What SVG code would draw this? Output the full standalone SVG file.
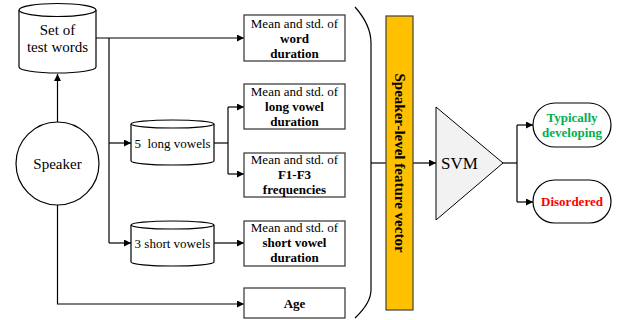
<svg xmlns="http://www.w3.org/2000/svg" width="619" height="320" viewBox="0 0 619 320" font-family="'Liberation Serif', 'DejaVu Serif', serif">
<style>
text{font-family:'Liberation Serif','DejaVu Serif',serif;fill:#000}
.t13{font-size:13px}
.b{font-weight:bold}
.box{fill:#fff;stroke:#404040;stroke-width:1.3}
.shape{fill:#fff;stroke:#000;stroke-width:1.2}
.ln{fill:none;stroke:#000;stroke-width:1.2}
</style>
<defs>
<marker id="ah" viewBox="0 0 10 10" refX="10" refY="5" markerWidth="7" markerHeight="7" markerUnits="userSpaceOnUse" orient="auto">
<path d="M0,0 L10,5 L0,10 z" fill="#000"/>
</marker>
</defs>
<rect width="619" height="320" fill="#fff"/>
<g id="connectors">
<path class="ln" d="M57.5,122 V74" marker-end="url(#ah)"/>
<path class="ln" d="M96,38 H244" marker-end="url(#ah)"/>
<path class="ln" d="M109,38 V243" />
<path class="ln" d="M109,143 H131" marker-end="url(#ah)"/>
<path class="ln" d="M109,243 H131" marker-end="url(#ah)"/>
<path class="ln" d="M214,143 H228" />
<path class="ln" d="M228,107 V174" />
<path class="ln" d="M228,107 H244" marker-end="url(#ah)"/>
<path class="ln" d="M228,174 H244" marker-end="url(#ah)"/>
<path class="ln" d="M214,243 H244" marker-end="url(#ah)"/>
<path class="ln" d="M57.5,205 V304 H244" marker-end="url(#ah)"/>
<path class="ln" d="M371,163 H386" />
<path class="ln" d="M413,163 H436" marker-end="url(#ah)"/>
<path class="ln" d="M503,163 H517" />
<path class="ln" d="M517,125 V202" />
<path class="ln" d="M517,125 H533" marker-end="url(#ah)"/>
<path class="ln" d="M517,202 H533" marker-end="url(#ah)"/>
</g>
<g id="brace">
<path class="ln" d="M355,7 Q371,25 371,43 V290 Q371,303 355,318"/>
</g>
<g id="test-words">
<path class="shape" d="M19,10 V67 A38.5,6 0 0 0 96,67 V10"/>
<ellipse class="shape" cx="57.5" cy="10" rx="38.5" ry="6.5"/>
<text x="57.5" y="35" text-anchor="middle" font-size="15">Set of</text>
<text x="57.5" y="52" text-anchor="middle" font-size="15">test words</text>
</g>
<g id="speaker">
<circle class="shape" cx="57.5" cy="163.5" r="41.5"/>
<text x="57.5" y="168.5" text-anchor="middle" font-size="15">Speaker</text>
</g>
<g id="long-vowels">
<path class="shape" d="M131,124 V161 A41.5,4 0 0 0 214,161 V124"/>
<ellipse class="shape" cx="172.5" cy="124" rx="41.5" ry="4"/>
<text x="172.5" y="147.5" text-anchor="middle" class="t13" xml:space="preserve">5  long vowels</text>
</g>
<g id="short-vowels">
<path class="shape" d="M131,225 V262 A41.5,4 0 0 0 214,262 V225"/>
<ellipse class="shape" cx="172.5" cy="225" rx="41.5" ry="4"/>
<text x="172.5" y="247.5" text-anchor="middle" class="t13">3 short vowels</text>
</g>
<g id="word-duration">
<rect class="box" x="244" y="15" width="101" height="46"/>
<text x="294.5" y="27.5" text-anchor="middle" class="t13">Mean and std. of</text>
<text x="294.5" y="42.5" text-anchor="middle" class="t13 b">word</text>
<text x="294.5" y="57.5" text-anchor="middle" class="t13 b">duration</text>
</g>
<g id="long-vowel-duration">
<rect class="box" x="244" y="84" width="101" height="45"/>
<text x="294.5" y="95.5" text-anchor="middle" class="t13">Mean and std. of</text>
<text x="294.5" y="111" text-anchor="middle" class="t13 b">long vowel</text>
<text x="294.5" y="126" text-anchor="middle" class="t13 b">duration</text>
</g>
<g id="formants">
<rect class="box" x="244" y="153" width="101" height="44"/>
<text x="294.5" y="163.5" text-anchor="middle" class="t13">Mean and std. of</text>
<text x="294.5" y="179" text-anchor="middle" class="t13 b">F1-F3</text>
<text x="294.5" y="194" text-anchor="middle" class="t13 b">frequencies</text>
</g>
<g id="short-vowel-duration">
<rect class="box" x="244" y="221" width="101" height="45"/>
<text x="294.5" y="232" text-anchor="middle" class="t13">Mean and std. of</text>
<text x="294.5" y="247" text-anchor="middle" class="t13 b">short vowel</text>
<text x="294.5" y="262" text-anchor="middle" class="t13 b">duration</text>
</g>
<g id="age">
<rect class="box" x="244" y="288" width="101" height="30"/>
<text x="294.5" y="308" text-anchor="middle" class="t13 b">Age</text>
</g>
<g id="feature-vector">
<rect x="386" y="16" width="27" height="294" fill="#FFC000" stroke="#404040" stroke-width="1.2"/>
<text transform="translate(394.5,163) rotate(90)" text-anchor="middle" font-size="15" class="b">Speaker-level feature vector</text>
</g>
<g id="svm">
<path d="M436,107 L503,163 L436,220 Z" fill="#F2F2F2" stroke="#000" stroke-width="1"/>
<text x="441" y="169" font-size="17">SVM</text>
</g>
<g id="typical">
<rect class="shape" x="533" y="103" width="78" height="44" rx="22" ry="22"/>
<text x="572" y="122" text-anchor="middle" class="t13 b" style="fill:#00B050">Typically</text>
<text x="572" y="137" text-anchor="middle" class="t13 b" style="fill:#00B050">developing</text>
</g>
<g id="disordered">
<rect class="shape" x="533" y="180" width="78" height="43" rx="21.5" ry="21.5"/>
<text x="572" y="206" text-anchor="middle" class="t13 b" style="fill:#FF0000">Disordered</text>
</g>
</svg>
